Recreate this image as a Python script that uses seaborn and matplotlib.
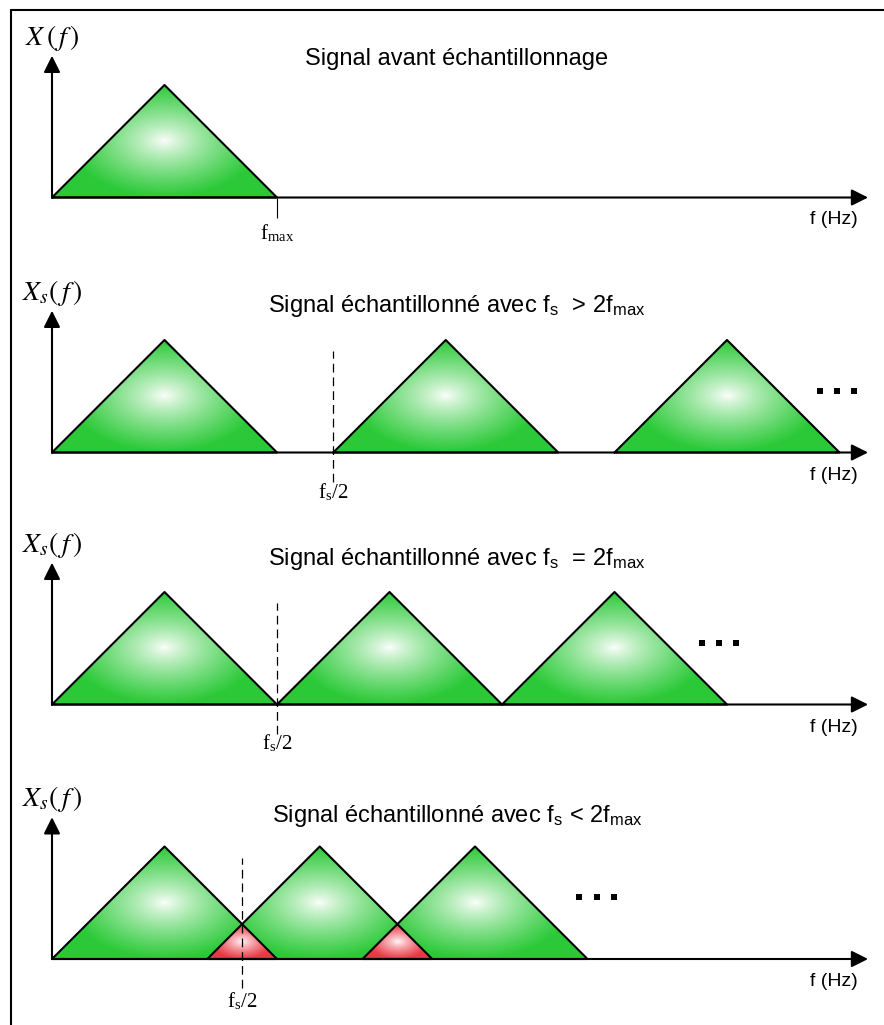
import numpy as np
import pandas as pd
import seaborn as sns
import matplotlib.pyplot as plt
from matplotlib.patches import Polygon
from matplotlib.lines import Line2D

# spectrum replicas, in units of fmax (one band = [start, start + fmax])
fmax = 1.0
peak = 0.5
panel_starts = [[0.0], [0.0, 1.25, 2.50], [0.0, 1.0, 2.0], [0.0, 0.69, 1.38]]
panel_fs_half = [None, 1.25, 1.0, 0.845]
panel_titles = [
    "Signal avant échantillonnage",
    r"Signal échantillonné avec f$_{\mathregular{s}}$  > 2f$_{\mathregular{max}}$",
    r"Signal échantillonné avec f$_{\mathregular{s}}$  = 2f$_{\mathregular{max}}$",
    r"Signal échantillonné avec f$_{\mathregular{s}}$ < 2f$_{\mathregular{max}}$",
]
panel_ylabels = [r"$X\,(\,f\,)$", r"$X_s(\,f\,)$", r"$X_s(\,f\,)$", r"$X_s(\,f\,)$"]
panel_more = [False, True, True, True]
xlabel = "f (Hz)"
fmax_label = r"f$_{\mathregular{max}}$"
fs_label = r"f$_{\mathregular{s}}$/2"

GREEN = np.array([0.17, 0.79, 0.22])
RED = np.array([0.92, 0.22, 0.27])

sns.set_theme(style="white")
plt.rcParams["font.family"] = ["Liberation Sans", "DejaVu Sans"]
plt.rcParams["mathtext.fontset"] = "stix"
plt.rcParams["text.color"] = "black"

W, H = 884, 1025
scale = 225.0   # pixels per fmax
x0px = 52.0
bands = [(0, 250, 197.5), (250, 505, 452.5), (505, 760, 704.5), (760, 1025, 959.0)]
title_y = [0.59, 0.624, 0.62, 0.61]
fs_label_y = [None, -0.178, -0.175, -0.187]
dots_shift = [0, -0.01, -0.035, 0.04]


def shade(ax, a, b, h, edge, z):
    """radial white -> colour gradient clipped to the triangle (a, b, height h)"""
    xs = np.linspace(a, b, 240)
    ys = np.linspace(0, h, 160)
    X, Y = np.meshgrid(xs, ys)
    cx, cy, half = (a + b) / 2, h / 2, (b - a) / 2
    r = np.sqrt(((X - cx) / (0.85 * half)) ** 2 + ((Y - cy) / (0.5 * half)) ** 2)
    t = (np.clip(r, 0, 1) ** 0.8)[..., None]
    rgb = (1 - t) * np.ones(3) + t * edge
    im = ax.imshow(rgb, extent=(a, b, 0, h), origin="lower", aspect="auto",
                   interpolation="bilinear", zorder=z)
    im.set_clip_path(Polygon([[a, 0], [cx, h], [b, 0]], closed=True,
                             transform=ax.transData))


fig = plt.figure(figsize=(W / 100, H / 100), dpi=100)

for i, (top, bot, base) in enumerate(bands):
    ax = fig.add_axes([0, 1 - bot / H, 1, (bot - top) / H])
    ax.axis("off")
    starts = panel_starts[i]

    # green replicas
    for s in starts:
        shade(ax, s, s + fmax, peak, GREEN, 1)
    # aliasing overlaps
    for s0, s1 in zip(starts[:-1], starts[1:]):
        if s1 < s0 + fmax:
            ov = (s0 + fmax - s1) / 2
            shade(ax, s1, s0 + fmax, ov * peak / (fmax / 2), RED, 2)

    rows = []
    for k, s in enumerate(starts):
        for f, amp in [(s, 0), (s + fmax / 2, peak), (s + fmax, 0), (s, 0)]:
            rows.append({"tri": k, "f": f, "amp": amp})
    outline = pd.DataFrame(rows)
    sns.lineplot(data=outline, x="f", y="amp", units="tri", estimator=None,
                 sort=False, color="black", lw=1.5, ax=ax, legend=False, zorder=4)

    # axes arrows
    arrow = dict(arrowstyle="-|>,head_length=1.0,head_width=0.5", mutation_scale=10,
                 lw=1.5, color="black", shrinkA=0, shrinkB=0)
    ax.annotate("", xy=(0, 0.63), xytext=(0, 0), arrowprops=arrow, zorder=5)
    ax.annotate("", xy=(3.627, 0), xytext=(0, 0), arrowprops=arrow, zorder=5)

    ax.text(0, 0.71, panel_ylabels[i], ha="center", va="center", fontsize=20)
    ax.text(1.80, title_y[i], panel_titles[i], ha="center", va="baseline", fontsize=17)
    ax.text(3.476, -0.10, xlabel, ha="center", va="center", fontsize=14)

    if i == 0:
        ax.vlines(fmax, -0.09, 0, color="black", lw=0.8, zorder=5)
        ax.text(fmax, -0.16, fmax_label, ha="center", va="center", fontsize=15,
                family="Liberation Serif")
    else:
        fh = panel_fs_half[i]
        ax.vlines(fh, -0.13, 0.45, color="black", lw=0.9,
                  linestyles=(0, (7, 4)), zorder=5)
        ax.text(fh, fs_label_y[i], fs_label, ha="center", va="center", fontsize=15,
                family="Liberation Serif", zorder=6)

    if panel_more[i]:
        c = starts[-1] + fmax + dots_shift[i]
        sns.scatterplot(x=[c - 0.076, c, c + 0.076], y=[0.275] * 3, marker="s", s=22,
                        color="black", linewidth=0, ax=ax, zorder=5)

    ax.set_xlim(-x0px / scale, (W - x0px) / scale)
    ax.set_ylim(-(bot - base) / scale, (base - top) / scale)

# frame around the figure (left and top edges)
fig.add_artist(Line2D([11 / W, 11 / W], [0, 1 - 10 / H], color="black", lw=1.5))
fig.add_artist(Line2D([11 / W, 1], [1 - 10 / H, 1 - 10 / H], color="black", lw=1.5))

fig.savefig("out.png", dpi=100)
